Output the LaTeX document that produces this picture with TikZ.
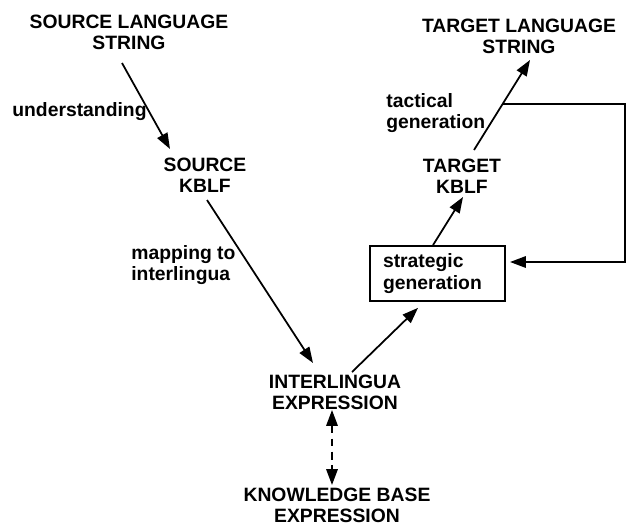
\documentclass[tikz,border=0pt]{standalone}
\usepackage{fontspec}
\setmainfont{Liberation Sans}
\usetikzlibrary{arrows.meta,calc}
\begin{document}
\begin{tikzpicture}[x=0.02cm,y=-0.02cm,
		font=\fontsize{11}{12}\selectfont\bfseries,
		every node/.style={inner sep=0pt},
		term/.style={align=center},
		lbl/.style={anchor=west,align=left},
		stage/.style={draw,line width=1pt,align=left,text width=62pt,inner xsep=7.5pt,minimum height=1.1cm},
		flow/.style={line width=1pt,-{Triangle[length=9pt,width=6.5pt]}}]
		\useasboundingbox (0,0) rectangle (626,525);
		% terms
		\node[term] (srcstr) at (129,32) {SOURCE LANGUAGE\\STRING};
		\node[term] (srckblf) at (205,175) {SOURCE\\KBLF};
		\node[term] (interl) at (335,392) {INTERLINGUA\\EXPRESSION};
		\node[term] (kb) at (337,505) {KNOWLEDGE BASE\\EXPRESSION};
		\node[term] (tgtkblf) at (462,176) {TARGET\\KBLF};
		\node[term] (tgtstr) at (519,36) {TARGET LANGUAGE\\STRING};
		% strategic box
		\node[stage] (strat) at (437.5,273.5) {strategic\\generation};
		% labels
		\node[lbl] (under) at (12,112) {understanding};
		\node[lbl] (mapping) at (131,265) {mapping to\\interlingua};
		\node[lbl] (tactical) at (386,113) {tactical\\generation};
		\coordinate (edge) at (625,0);
		% left branch
		\draw[flow] ($(srcstr)+(-7,31)$) -- ($(srckblf)+(-35,-26)$);
		\draw[flow] ($(srckblf)+(2,25)$) -- ($(interl)+(-22,-29)$);
		% right branch
		\draw[flow] ($(interl)+(17,-20)$) -- ($(strat.south)+(-19.5,6)$);
		\draw[flow] ($(strat.north)+(-4.5,0)$) -- ($(tgtkblf)+(1,21)$);
		\draw[flow] ($(tgtkblf)+(12,-26)$) -- coordinate[pos=0.51] (tap) ($(tgtstr)+(11,24)$);
		% feedback
		\draw[flow] (tap) -- (tap -| edge) |- ($(strat.east)+(4,-11.5)$);
		% knowledge base link
		\draw[line width=1pt,dash pattern=on 4.5pt off 3pt,{Triangle[length=9pt,width=6.5pt]}-{Triangle[length=9pt,width=6.5pt]}] ($(interl)+(-3,18)$) -- ($(kb)+(-5,-20)$);
	\end{tikzpicture}
\end{document}
